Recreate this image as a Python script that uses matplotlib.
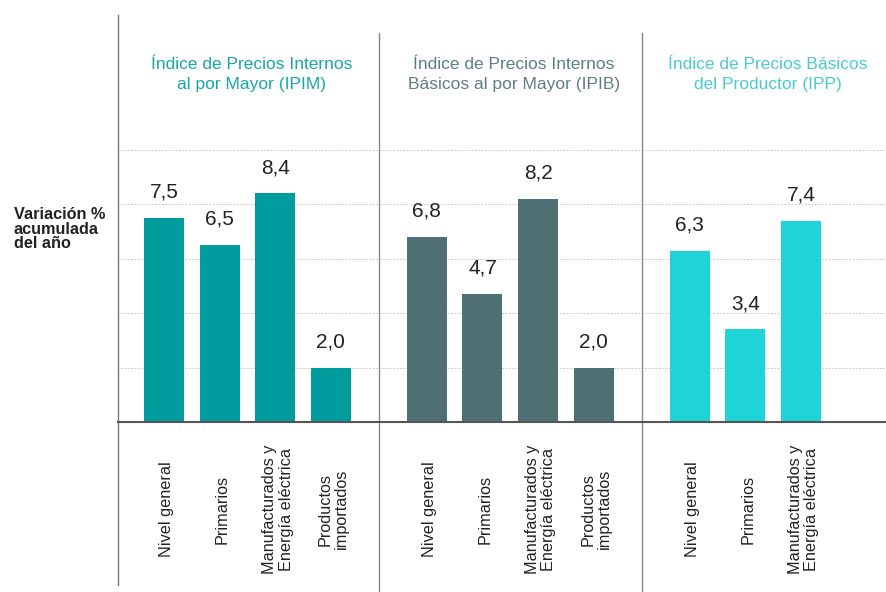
import matplotlib
matplotlib.use("Agg")
import matplotlib.pyplot as plt

plt.rcParams["font.family"] = ["Liberation Sans", "DejaVu Sans"]

# data
group_titles = [
    "Índice de Precios Internos\nal por Mayor (IPIM)",
    "Índice de Precios Internos\nBásicos al por Mayor (IPIB)",
    "Índice de Precios Básicos\ndel Productor (IPP)",
]
group_categories = [
    ["Nivel general", "Primarios", "Manufacturados y\nEnergía eléctrica", "Productos\nimportados"],
    ["Nivel general", "Primarios", "Manufacturados y\nEnergía eléctrica", "Productos\nimportados"],
    ["Nivel general", "Primarios", "Manufacturados y\nEnergía eléctrica"],
]
ipim = [7.5, 6.5, 8.4, 2.0]
ipib = [6.8, 4.7, 8.2, 2.0]
ipp = [6.3, 3.4, 7.4]
group_values = [ipim, ipib, ipp]

bar_colors = ["#009c9e", "#4e7073", "#1fd4d8"]
title_colors = ["#1aa6a8", "#5f7e80", "#4ccacd"]
gridlines = [2, 4, 6, 8, 10]

group_step = 4.73
bar_width = 0.72
x_left, x_right = -0.845, 12.99
y_bottom, y_top = -6.25, 15.51

fig = plt.figure(figsize=(8.86, 5.92), dpi=100)
ax = fig.add_axes([117 / 886, 0, 1 - 117 / 886, 1])
ax.set_xlim(x_left, x_right)
ax.set_ylim(y_bottom, y_top)
ax.axis("off")

# grid
for g in gridlines:
    ax.plot([x_left, x_right], [g, g], color="#cccccc", lw=0.7,
            linestyle=(0, (2, 1.5)), zorder=0)
ax.plot([x_left, x_right], [0, 0], color="#555555", lw=1.5, zorder=3)

# left line and separators
ax.plot([x_left + 0.01, x_left + 0.01], [-5.99, 14.96], color="#777777", lw=1.0)
seps = []
for gi in range(len(group_values) - 1):
    last = gi * group_step + len(group_values[gi]) - 1
    nxt = (gi + 1) * group_step
    seps.append((last + nxt) / 2)
for s in seps:
    ax.plot([s, s], [y_bottom, 14.30], color="#888888", lw=1.0)

bounds = [x_left] + seps + [x_right]
for gi, (vals, cats) in enumerate(zip(group_values, group_categories)):
    xs = [gi * group_step + i for i in range(len(vals))]
    ax.bar(xs, vals, width=bar_width, color=bar_colors[gi], zorder=2)
    for x, v, c in zip(xs, vals, cats):
        ax.text(x, v + 0.6, f"{v:.1f}".replace(".", ","), ha="center", va="bottom",
                fontsize=15, color="#222222")
        ax.text(x + 0.05, -3.2, c, rotation=90, ha="center", va="center",
                multialignment="center", fontsize=11.7, color="#222222", linespacing=1.1)
    mid = (bounds[gi] + bounds[gi + 1]) / 2 + 0.07
    ax.text(mid, 12.76, group_titles[gi], ha="center", va="center", fontsize=12.5,
            color=title_colors[gi], linespacing=1.4)

fig.text(14 / 886, 1 - 229 / 592, "Variación %\nacumulada\ndel año", ha="left", va="center",
         fontsize=11.7, fontweight="bold", color="#222222", linespacing=0.95)

fig.savefig("out.png", dpi=100)
